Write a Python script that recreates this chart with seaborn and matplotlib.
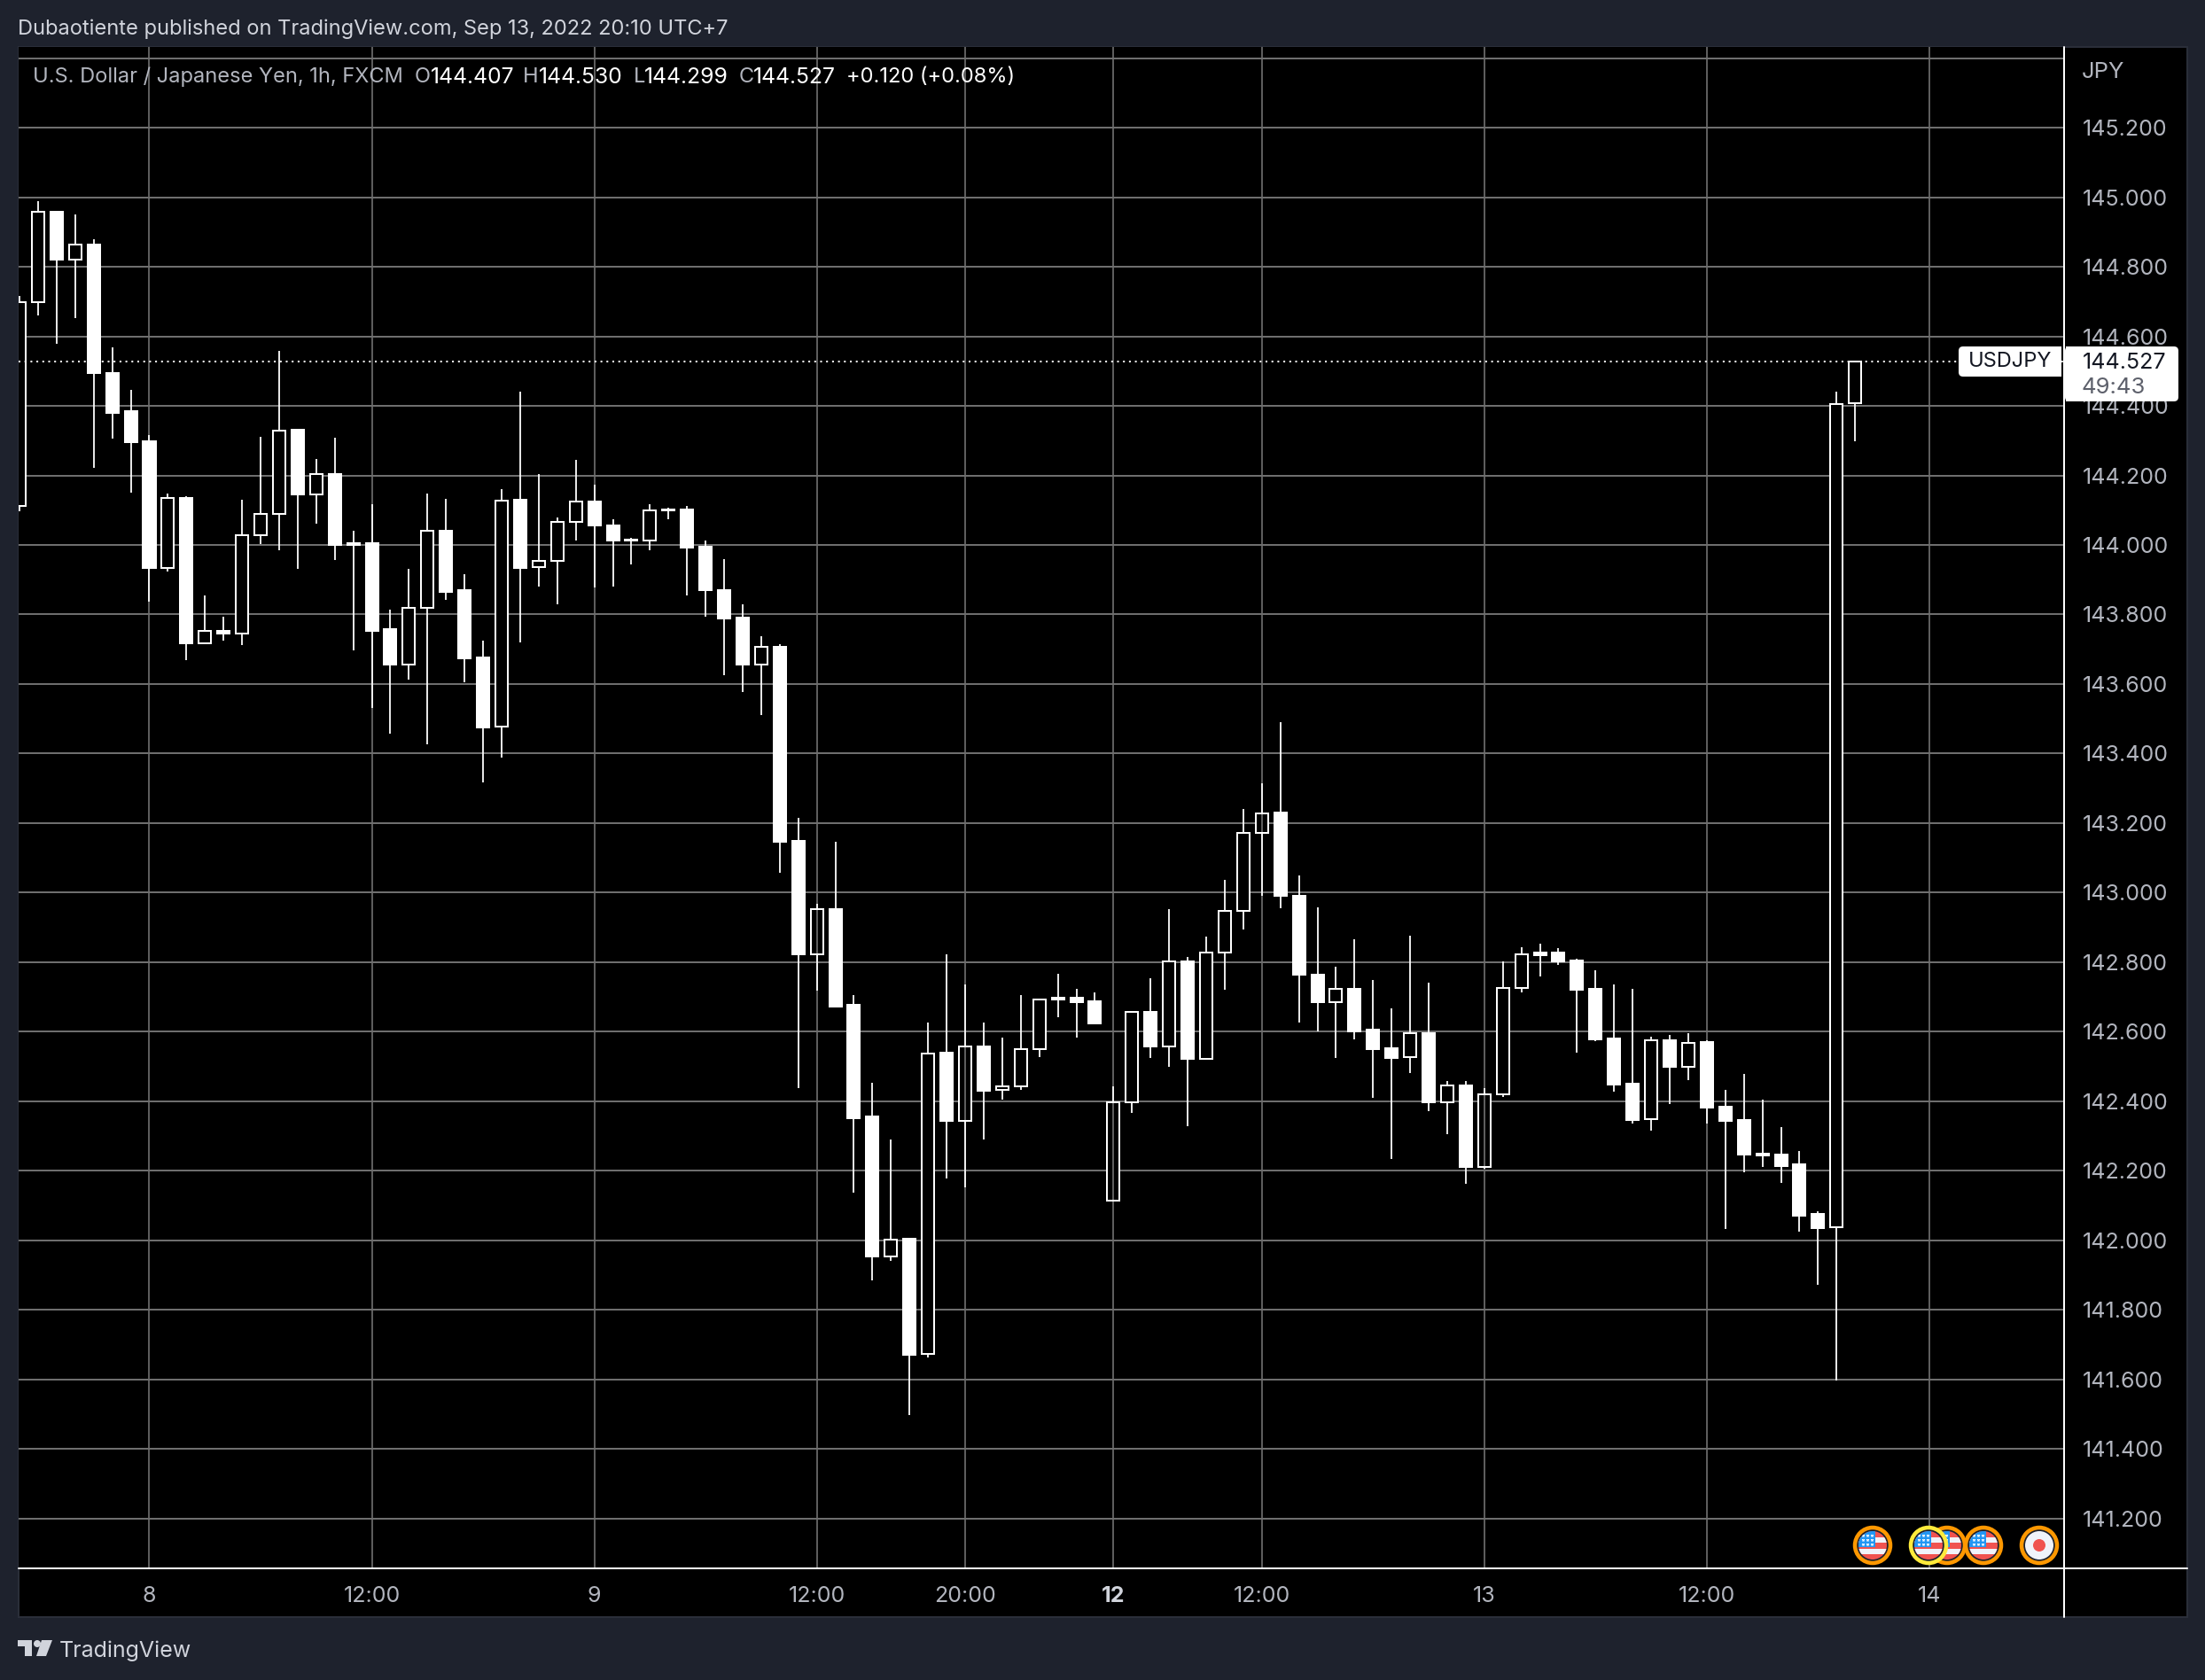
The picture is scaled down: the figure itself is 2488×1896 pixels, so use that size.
"""USD/JPY 1h candlestick chart in the TradingView dark layout."""

import matplotlib

matplotlib.use("Agg")

import matplotlib.pyplot as plt
import numpy as np
import pandas as pd
import seaborn as sns
from matplotlib.lines import Line2D
from matplotlib.patches import Circle, FancyBboxPatch, Polygon, Rectangle

# ---------------------------------------------------------------------------
# Data
# ---------------------------------------------------------------------------

opens = [
    144.112, 144.698, 144.959, 144.820, 144.864, 144.495, 144.384, 144.299, 143.933, 144.136,
    143.717, 143.754, 143.745, 144.028, 144.089, 144.330, 144.145, 144.205, 144.001, 144.004,
    143.757, 143.655, 143.819, 144.042, 143.869, 143.677, 143.478, 144.129, 143.937, 143.953,
    144.067, 144.126, 144.057, 144.016, 144.013, 144.099, 144.103, 143.995, 143.871, 143.792,
    143.655, 143.707, 143.150, 142.822, 142.954, 142.677, 142.356, 141.953, 142.004, 141.673,
    142.539, 142.345, 142.559, 142.433, 142.444, 142.550, 142.694, 142.697, 142.689, 142.115,
    142.397, 142.658, 142.559, 142.803, 142.521, 142.828, 142.947, 143.172, 143.231, 142.991,
    142.765, 142.686, 142.724, 142.607, 142.553, 142.526, 142.596, 142.397, 142.446, 142.211,
    142.419, 142.725, 142.827, 142.828, 142.805, 142.724, 142.582, 142.451, 142.348, 142.576,
    142.500, 142.571, 142.385, 142.347, 142.250, 142.248, 142.218, 142.075, 142.038, 144.407,
]
highs = [
    144.717, 144.989, 144.961, 144.951, 144.878, 144.567, 144.447, 144.316, 144.147, 144.140,
    143.854, 143.794, 144.129, 144.312, 144.559, 144.330, 144.248, 144.309, 144.042, 144.116,
    143.813, 143.930, 144.149, 144.133, 143.915, 143.726, 144.160, 144.442, 144.205, 144.080,
    144.244, 144.174, 144.075, 144.020, 144.118, 144.106, 144.112, 144.014, 143.958, 143.830,
    143.738, 143.715, 143.215, 142.967, 143.147, 142.706, 142.454, 142.291, 142.007, 142.627,
    142.822, 142.735, 142.626, 142.584, 142.706, 142.692, 142.768, 142.724, 142.712, 142.443,
    142.656, 142.755, 142.953, 142.814, 142.874, 143.038, 143.241, 143.315, 143.491, 143.050,
    142.959, 142.788, 142.866, 142.749, 142.667, 142.876, 142.741, 142.459, 142.459, 142.437,
    142.802, 142.843, 142.853, 142.840, 142.810, 142.778, 142.736, 142.724, 142.586, 142.591,
    142.595, 142.575, 142.432, 142.480, 142.406, 142.325, 142.258, 142.083, 144.442, 144.530,
]
lows = [
    144.098, 144.661, 144.578, 144.653, 144.221, 144.306, 144.151, 143.837, 143.923, 143.668,
    143.717, 143.726, 143.713, 144.003, 143.984, 143.930, 144.062, 143.956, 143.696, 143.530,
    143.456, 143.612, 143.426, 143.841, 143.606, 143.318, 143.389, 143.720, 143.881, 143.830,
    144.014, 143.878, 143.881, 143.945, 143.984, 144.075, 143.854, 143.794, 143.625, 143.577,
    143.511, 143.056, 142.439, 142.718, 142.670, 142.138, 141.886, 141.942, 141.499, 141.663,
    142.177, 142.153, 142.291, 142.406, 142.434, 142.528, 142.641, 142.584, 142.623, 142.115,
    142.366, 142.524, 142.498, 142.329, 142.521, 142.720, 142.893, 142.991, 142.956, 142.626,
    142.602, 142.525, 142.579, 142.410, 142.233, 142.482, 142.372, 142.306, 142.164, 142.206,
    142.413, 142.713, 142.760, 142.792, 142.541, 142.574, 142.429, 142.337, 142.317, 142.391,
    142.460, 142.335, 142.034, 142.196, 142.212, 142.165, 142.024, 141.873, 141.598, 144.299,
]
closes = [
    144.697, 144.958, 144.820, 144.863, 144.494, 144.380, 144.296, 143.933, 144.135, 143.716,
    143.752, 143.744, 144.028, 144.089, 144.329, 144.144, 144.204, 144.001, 144.005, 143.754,
    143.655, 143.819, 144.041, 143.865, 143.675, 143.476, 144.127, 143.935, 143.954, 144.065,
    144.125, 144.055, 144.014, 144.012, 144.099, 144.103, 143.993, 143.869, 143.789, 143.655,
    143.706, 143.147, 142.822, 142.953, 142.673, 142.352, 141.953, 142.002, 141.672, 142.538,
    142.345, 142.558, 142.431, 142.442, 142.550, 142.692, 142.697, 142.686, 142.623, 142.397,
    142.656, 142.559, 142.802, 142.521, 142.828, 142.947, 143.172, 143.229, 142.990, 142.763,
    142.684, 142.723, 142.602, 142.550, 142.525, 142.595, 142.396, 142.445, 142.210, 142.420,
    142.726, 142.822, 142.821, 142.802, 142.721, 142.579, 142.449, 142.347, 142.575, 142.500,
    142.569, 142.383, 142.345, 142.246, 142.244, 142.214, 142.071, 142.036, 144.404, 144.527,
]

price_ticks = [145.2, 145.0, 144.8, 144.6, 144.4, 144.2, 144.0, 143.8, 143.6, 143.4, 143.2,
               143.0, 142.8, 142.6, 142.4, 142.2, 142.0, 141.8, 141.6, 141.4, 141.2]
top_gridline = 145.4
time_ticks = [7, 19, 31, 43, 51, 59, 67, 79, 91, 103]
time_labels = ["8", "12:00", "9", "12:00", "20:00", "12", "12:00", "13", "12:00", "14"]
last_price = 144.527

# ---------------------------------------------------------------------------
# Layout and colours
# ---------------------------------------------------------------------------

WIDTH, HEIGHT = 2488, 1896
PAGE = "#1e222d"
GRID = "#6e6e6e"
MUTED = "#b2b5be"
LIGHT = "#d1d4dc"
ORANGE = "#ff9800"
YELLOW = "#ffeb3b"
RED = "#f05350"
PX = 0.72  # one image pixel in points at dpi=100

sns.set_theme(style="dark", rc={"axes.grid": False})
plt.rcParams["font.family"] = ["Inter", "DejaVu Sans"]


def draw_candles(ax: plt.Axes, df: pd.DataFrame) -> None:
    """Draw wicks and bodies; up candles are black boxes with a white outline."""
    body_top = df[["open", "close"]].max(axis=1)
    body_low = df[["open", "close"]].min(axis=1)
    ax.vlines(df["idx"], body_top, df["high"], color="white", lw=1.8 * PX, zorder=4)
    ax.vlines(df["idx"], df["low"], body_low, color="white", lw=1.8 * PX, zorder=4)

    df = df.assign(body=body_top - body_low, base=body_low)
    up = df[df["close"] >= df["open"]]
    down = df[df["close"] < df["open"]]

    common = dict(x="idx", y="body", native_scale=True, errorbar=None, width=0.67,
                  saturation=1, legend=False, ax=ax)
    sns.barplot(data=up, bottom=up["base"].to_numpy(), color="black", edgecolor="black",
                linewidth=2 * PX, zorder=2, **common)
    sns.barplot(data=up, bottom=up["base"].to_numpy(), fill=False, color="white",
                linewidth=2 * PX, zorder=3.5, **common)
    sns.barplot(data=down, bottom=down["base"].to_numpy(), color="white", edgecolor="white",
                linewidth=2 * PX, zorder=4, **common)


def draw_flag_icon(ax: plt.Axes, cx: float, cy: float, ring: str, base_z: float) -> None:
    """US-flag event marker, in overlay pixel coordinates."""
    ax.add_patch(Circle((cx, cy), 20, fc=PAGE, ec=ring, lw=4.5 * PX, zorder=base_z))
    clip = Circle((cx, cy), 16, fc=RED, ec="none", zorder=base_z + 0.1)
    ax.add_patch(clip)
    for top, bottom in [(-9, -3), (4, 10)]:
        stripe = Rectangle((cx - 16, cy + top), 32, bottom - top, fc="#f0f3fa", ec="none",
                           zorder=base_z + 0.2)
        ax.add_patch(stripe)
        stripe.set_clip_path(clip)
    canton = Rectangle((cx - 16, cy - 16), 19, 18, fc="#2196f3", ec="none", zorder=base_z + 0.3)
    ax.add_patch(canton)
    canton.set_clip_path(clip)
    stars = ax.scatter(
        [cx + dx for dx in (-11, -6, -1) for _ in range(3)],
        [cy + dy for _ in range(3) for dy in (-11, -6, -1)],
        s=9, marker="*", c="white", linewidths=0, zorder=base_z + 0.4,
    )
    stars.set_clip_path(clip)


def draw_record_icon(ax: plt.Axes, cx: float, cy: float) -> None:
    """Round white event marker with a red dot."""
    ax.add_patch(Circle((cx, cy), 20, fc=PAGE, ec=ORANGE, lw=4.5 * PX, zorder=6))
    ax.add_patch(Circle((cx, cy), 16, fc="#f0f3fa", ec="none", zorder=7))
    ax.add_patch(Circle((cx, cy), 7, fc=RED, ec="none", zorder=8))


def draw_overlay(ax: plt.Axes) -> None:
    """Header, legend, price label, event markers and logo."""
    ax.set_xlim(0, WIDTH)
    ax.set_ylim(HEIGHT, 0)
    ax.axis("off")

    ax.text(20, 33, "Dubaotiente published on TradingView.com, Sep 13, 2022 20:10 UTC+7",
            color=LIGHT, fontsize=17, va="center")

    ax.text(37, 87, "U.S. Dollar / Japanese Yen, 1h, FXCM", color=MUTED, fontsize=17, va="center")
    legend = [("O", 468, MUTED, 17), ("144.407", 486, "white", 17.8), ("H", 590, MUTED, 17),
              ("144.530", 608, "white", 17.8), ("L", 715, MUTED, 17), ("144.299", 727, "white", 17.8),
              ("C", 834, MUTED, 17), ("144.527", 850, "white", 17.8),
              ("+0.120 (+0.08%)", 955, "white", 17)]
    for label, x, colour, size in legend:
        ax.text(x, 87, label, color=colour, fontsize=size, va="center")

    ax.text(2349, 81, "JPY", color=MUTED, fontsize=18.5, va="center")

    # last price label
    ax.add_patch(FancyBboxPatch((2214, 395), 108, 26, boxstyle="round,pad=4,rounding_size=5",
                                fc="white", ec="none", zorder=6))
    ax.add_patch(FancyBboxPatch((2334, 395), 120, 54, boxstyle="round,pad=4,rounding_size=5",
                                fc="white", ec="none", zorder=6))
    ax.add_patch(Rectangle((2316, 391), 10, 34, fc="white", ec="none", zorder=6))
    ax.add_patch(Rectangle((2331, 391), 10, 62, fc="white", ec="none", zorder=6))
    ax.text(2268, 408, "USDJPY", color="#131722", fontsize=17, ha="center", va="center", zorder=7)
    ax.text(2350, 409.5, "144.527", color="#131722", fontsize=18, va="center", zorder=7)
    ax.text(2349, 437, "49:43", color="#5d606b", fontsize=18.5, va="center", zorder=7)

    # event markers, overlapping pair drawn back to front
    draw_flag_icon(ax, 2197, 1744, ORANGE, 6)
    draw_flag_icon(ax, 2176, 1744, YELLOW, 7)
    draw_flag_icon(ax, 2113, 1744, ORANGE, 6)
    draw_flag_icon(ax, 2238, 1744, ORANGE, 8)
    draw_record_icon(ax, 2301, 1744)

    # logo
    ax.add_patch(Polygon([(20, 1851), (36, 1851), (36, 1869), (28, 1869), (28, 1858), (20, 1858)],
                         fc=LIGHT, ec="none"))
    ax.add_patch(Circle((42, 1855), 4, fc=LIGHT, ec="none"))
    ax.add_patch(Polygon([(47, 1851), (59, 1851), (52, 1869), (41, 1869)], fc=LIGHT, ec="none"))
    ax.text(67, 1863, "TradingView", color=LIGHT, fontsize=18, va="center")


def fig_x(px: float) -> float:
    return px / WIDTH


def fig_y(px: float) -> float:
    return 1 - px / HEIGHT


fig = plt.figure(figsize=(WIDTH / 100, HEIGHT / 100), dpi=100, facecolor=PAGE)

# black pane behind chart and both scales
fig.add_artist(Rectangle((fig_x(21), fig_y(1825)), (2468 - 21) / WIDTH, (1825 - 53) / HEIGHT,
                         transform=fig.transFigure, fc="black", ec="#2a2e39", lw=2 * PX, zorder=-1))

ax = fig.add_axes([fig_x(21), fig_y(1770), (2329 - 21) / WIDTH, (1770 - 53) / HEIGHT], facecolor="black")

candles = pd.DataFrame({
    "idx": np.arange(len(opens)),
    "open": opens,
    "high": highs,
    "low": lows,
    "close": closes,
})

x_limits = (-0.05, 110.27)
y_limits = (141.057, 145.432)

ax.hlines(price_ticks + [top_gridline], *x_limits, color=GRID, lw=2 * PX, zorder=1)
ax.vlines(time_ticks, *y_limits, color=GRID, lw=1.7 * PX, zorder=3)
draw_candles(ax, candles)
ax.hlines(last_price, x_limits[0], x_limits[1], color="white", lw=2 * PX,
          linestyles=[(0, (1, 2.35))], zorder=5)

ax.set_xlim(*x_limits)
ax.set_ylim(*y_limits)
ax.set_xlabel("")
ax.set_ylabel("")
sns.despine(ax=ax, left=True, bottom=True, right=True, top=True)

ax.yaxis.tick_right()
ax.set_yticks(price_ticks)
ax.set_yticklabels([f"{p:.3f}" for p in price_ticks])
ax.set_xticks(time_ticks)
ax.set_xticklabels(time_labels)
ax.tick_params(axis="y", length=0, pad=15, labelsize=18, labelcolor=MUTED)
ax.tick_params(axis="x", length=0, pad=14.5, labelsize=18, labelcolor=MUTED)
ax.get_xticklabels()[time_labels.index("12")].set_fontweight("bold")
ax.get_xticklabels()[time_labels.index("12")].set_color(LIGHT)

# white scale borders run past the plot area to the pane edge
fig.add_artist(Line2D([fig_x(21), fig_x(2468)], [fig_y(1770), fig_y(1770)], color="white", lw=2 * PX))
fig.add_artist(Line2D([fig_x(2329), fig_x(2329)], [fig_y(53), fig_y(1825)], color="white", lw=2 * PX))

overlay = fig.add_axes([0, 0, 1, 1], facecolor="none", zorder=5)
draw_overlay(overlay)

fig.savefig("out.png", dpi=100, facecolor=fig.get_facecolor())
plt.close(fig)
